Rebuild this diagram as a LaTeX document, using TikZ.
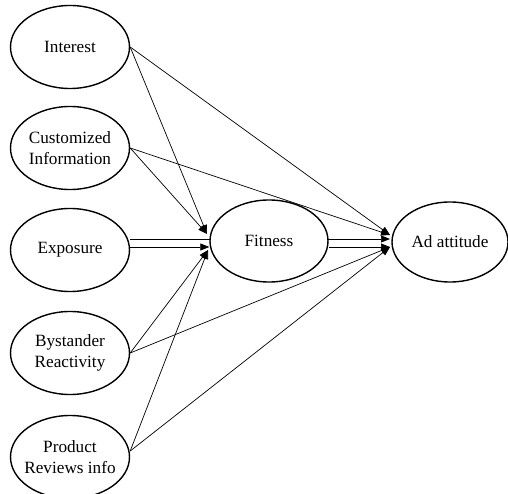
\documentclass[tikz,border=0pt]{standalone}
\usepackage{fontspec}
\setmainfont{Liberation Serif}
\usetikzlibrary{arrows.meta,backgrounds,shapes.geometric}
\begin{document}
\begin{tikzpicture}[x=1pt,y=-1pt,
  var/.style={ellipse,draw,line width=1.4pt,fill=white,minimum width=119pt,minimum height=83pt,inner sep=-10pt,align=center,font=\fontsize{17.2}{20.5}\selectfont},
  path/.style={draw,line width=0.7pt,-{Triangle[length=9pt,width=7pt]}}]
\useasboundingbox (0,0) rectangle (508,494);
\node[var] (int) at (70,47) {Interest};
\node[var] (cus) at (70,148) {Customized\\Information};
\node[var] (exp) at (70,250) {Exposure};
\node[var] (bys) at (70,353) {Bystander\\Reactivity};
\node[var] (pro) at (70,457) {Product\\Reviews info};
\node[var,minimum width=118pt,minimum height=82pt] (fit) at (269,241) {Fitness};
\node[var,minimum width=116pt,minimum height=80pt] (ad) at (450,242) {Ad attitude};
\coordinate (fA) at (207,234);
\coordinate (fB) at (208,250);
\coordinate (aA) at (390,235);
\coordinate (aB) at (390,239);
\coordinate (aC) at (390,247);
\begin{scope}[on background layer]
\draw[path] (int.east) -- (fA);
\draw[path] (int.east) -- (aA);
\draw[path] (cus.east) -- (fA);
\draw[path] (cus.east) -- (aA);
\draw[path] ([yshift=3pt]exp.east) -- (fit.west |- {0,247});
\draw[path] ([yshift=11pt]exp.east) -- (aB);
\draw[path] (fit.east |- {0,247}) -- (aC);
\draw[path] (bys.east) -- (fB);
\draw[path] (bys.east) -- (aC);
\draw[path] ([yshift=6pt]pro.east) -- (fB);
\draw[path] ([yshift=6pt]pro.east) -- (aC);
\end{scope}
\end{tikzpicture}
\end{document}
